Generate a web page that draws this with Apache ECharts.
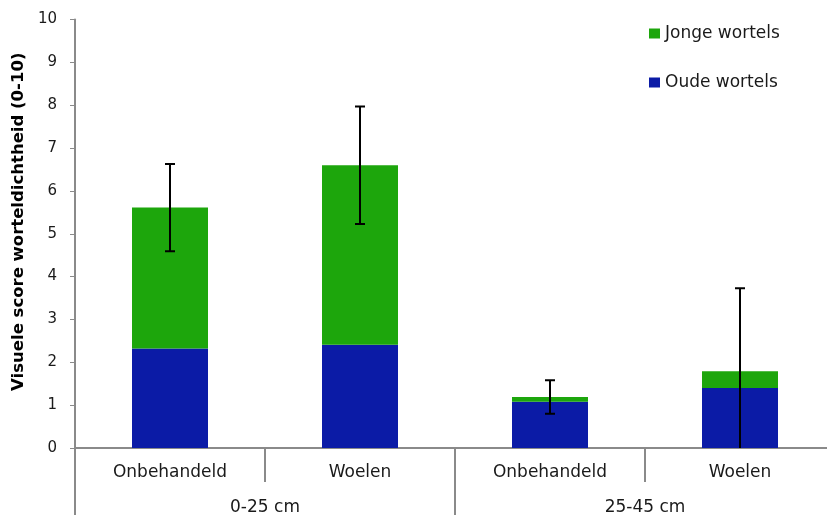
<!DOCTYPE html>
<html>
<head>
<meta charset="utf-8">
<script src="https://cdn.jsdelivr.net/npm/echarts@6/dist/echarts.min.js"></script>
<style>
  html, body { margin: 0; padding: 0; background: #fff; overflow: hidden; width: 827px; height: 516px; }
  /* the plot area runs a few pixels past the visible right edge */
  #chart { width: 835px; height: 516px; }
</style>
</head>
<body>
<div id="chart"></div>
<script>
// Treatments (first axis row) and soil depth layers (second axis row)
const treatments = ['Onbehandeld', 'Woelen', 'Onbehandeld', 'Woelen'];
const depthGroups = ['0-25 cm', '25-45 cm'];

// Visual root density scores (0-10), stacked
const oudeWortels = [2.32, 2.41, 1.08, 1.40];
const jongeWortels = [3.29, 4.19, 0.11, 0.39];

// Error bar half-widths on the stack total
const errorMargins = [1.02, 1.37, 0.39, 1.94];

const yTicks = [0, 10, 1]; // min, max, interval

const fontFamily = '"DejaVu Sans", Verdana, sans-serif';
const axisGrey = '#8a8a8a';
const textColor = '#1a1a1a';

const totals = oudeWortels.map((v, i) => v + jongeWortels[i]);
const errorData = totals.map((t, i) => [i, t + errorMargins[i], t - errorMargins[i]]);

const chart = echarts.init(document.getElementById('chart'));

chart.setOption({
  animation: false,
  backgroundColor: '#ffffff',
  textStyle: { fontFamily: fontFamily },
  grid: { left: 75, right: 0, top: 19.5, bottom: 67, containLabel: false },
  legend: {
    orient: 'vertical',
    left: 649,
    top: 25,
    padding: 0,
    itemWidth: 11,
    itemHeight: 10,
    itemGap: 32,
    icon: 'rect',
    data: ['Jonge wortels', 'Oude wortels'],
    textStyle: { fontFamily: fontFamily, fontSize: 17, color: textColor }
  },
  xAxis: [
    {
      type: 'category',
      data: treatments,
      position: 'bottom',
      boundaryGap: true,
      axisLine: { show: true, lineStyle: { color: axisGrey, width: 2 } },
      axisTick: { show: true, length: 34, lineStyle: { color: axisGrey, width: 2 } },
      axisLabel: { margin: 16, fontSize: 17, color: textColor, fontFamily: fontFamily, interval: 0 }
    },
    {
      type: 'category',
      data: depthGroups,
      position: 'bottom',
      boundaryGap: true,
      axisLine: { show: false },
      axisTick: { show: true, length: 67, lineStyle: { color: axisGrey, width: 2 } },
      axisLabel: { margin: 51, fontSize: 17, color: textColor, fontFamily: fontFamily, interval: 0 }
    }
  ],
  yAxis: {
    type: 'value',
    min: yTicks[0],
    max: yTicks[1],
    interval: yTicks[2],
    name: 'Visuele score worteldichtheid (0-10)',
    nameLocation: 'middle',
    nameGap: 45,
    nameTextStyle: { fontSize: 16.5, fontWeight: 'bold', color: '#000', fontFamily: fontFamily, padding: [0, 0, 0, 24] },
    axisLine: { show: true, lineStyle: { color: axisGrey, width: 2 } },
    axisTick: { show: true, length: 5, lineStyle: { color: axisGrey, width: 1 } },
    axisLabel: { margin: 18, fontSize: 15, color: textColor, fontFamily: fontFamily },
    splitLine: { show: false }
  },
  series: [
    {
      name: 'Oude wortels',
      type: 'bar',
      stack: 'score',
      barWidth: 76,
      data: oudeWortels,
      itemStyle: { color: '#0b1ba6' }
    },
    {
      name: 'Jonge wortels',
      type: 'bar',
      stack: 'score',
      barWidth: 76,
      data: jongeWortels,
      itemStyle: { color: '#1da60c' }
    },
    {
      name: 'foutbalk',
      type: 'custom',
      data: errorData,
      z: 10,
      clip: true,
      renderItem: function (params, api) {
        const idx = api.value(0);
        const hi = api.value(1);
        const loRaw = api.value(2);
        const lo = Math.max(loRaw, 0);
        const top = api.coord([idx, hi]);
        const bottom = api.coord([idx, lo]);
        const capHalf = 5;
        const style = { stroke: '#000', lineWidth: 2, fill: null };
        const children = [
          { type: 'line', shape: { x1: top[0], y1: top[1], x2: bottom[0], y2: bottom[1] }, style: style },
          { type: 'line', shape: { x1: top[0] - capHalf, y1: top[1], x2: top[0] + capHalf, y2: top[1] }, style: style }
        ];
        if (loRaw >= 0) {
          children.push({ type: 'line', shape: { x1: bottom[0] - capHalf, y1: bottom[1], x2: bottom[0] + capHalf, y2: bottom[1] }, style: style });
        }
        return { type: 'group', children: children };
      }
    }
  ]
});
</script>
</body>
</html>
